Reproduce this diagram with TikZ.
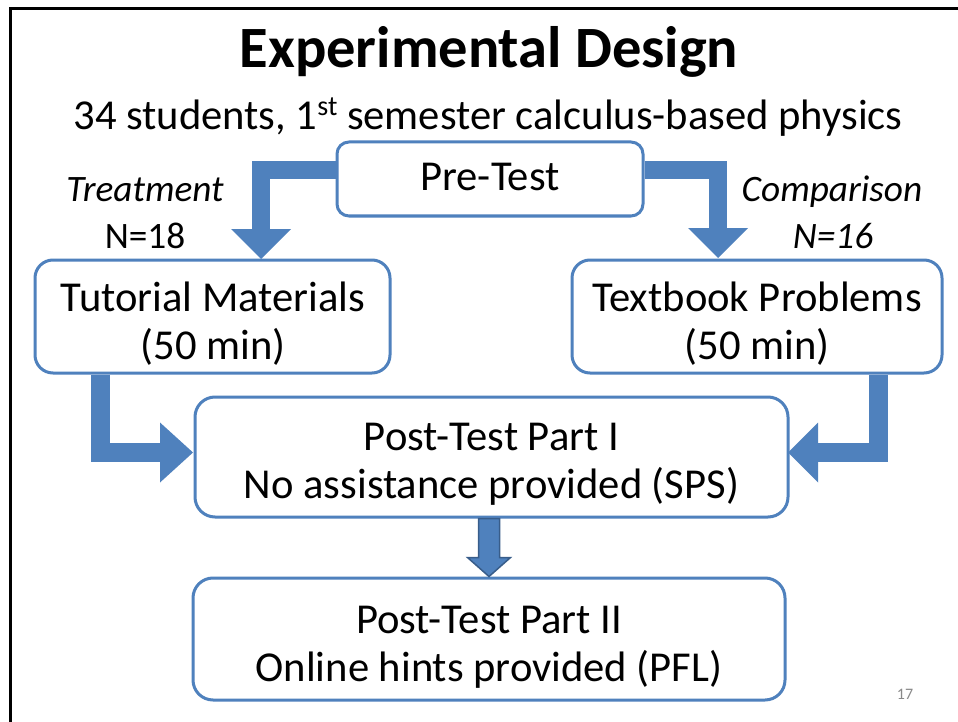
\documentclass[tikz,border=0pt]{standalone}
\usepackage{fontspec}
\setmainfont{Carlito}
\usetikzlibrary{arrows.meta,calc}
\definecolor{accent}{HTML}{4F81BD}
\definecolor{accentdark}{HTML}{385D8A}
\definecolor{pagegray}{HTML}{898989}
\begin{document}
\begin{tikzpicture}[x=1pt,y=-1pt,
  box/.style={draw=accent, line width=3pt, rounded corners=#1, fill=white, inner sep=0pt},
  box/.default=18pt,
  bodytext/.style={anchor=base, inner sep=0pt, font=\fontsize{42.6pt}{48pt}\selectfont},
  lbltext/.style={anchor=base, inner sep=0pt, font=\fontsize{37.3pt}{42pt}\selectfont},
  lblitalic/.style={anchor=base, inner sep=0pt, font=\itshape\fontsize{37.3pt}{42pt}\selectfont},
  fat/.style={draw=accent, line width=#1, line join=miter},
  fattip/.style={-{Triangle[width=60pt,length=#1,line width=0pt]}},
  blockarrow/.style={fill=accent, draw=accentdark, line width=1.5pt, line join=miter}
]
\useasboundingbox (0,0) rectangle (958,722);
\fill[white] (0,0) rectangle (958,722);
% slide frame
\draw[black, line width=2.5pt] (10.5,722) -- (10.5,8.5) -- (958,8.5);

% title and subtitle
\node[anchor=base, inner sep=0pt, font=\bfseries\fontsize{58.5pt}{60pt}\selectfont] (title) at (489,68) {Experimental Design};
\node[bodytext] (subtitle) at (488,130) {34 students, 1\raisebox{0.33em}{\fontsize{28pt}{28pt}\selectfont st} semester calculus-based physics};

% boxes
\node[box=12pt, minimum width=306pt, minimum height=74pt] (pre) at (490,179) {};
\node[box, minimum width=355pt, minimum height=113pt] (tut) at (212.5,316.5) {};
\node[box, minimum width=370pt, minimum height=113pt] (txt) at (757,316.5) {};
\node[box=20pt, minimum width=593pt, minimum height=120pt] (post1) at (491.5,457) {};
\node[box=20pt, minimum width=592pt, minimum height=122pt] (post2) at (489,639) {};

% box texts
\node[bodytext] (pretext) at (490,190) {Pre-Test};
\node[bodytext] (tuta) at (213,311) {Tutorial Materials};
\node[bodytext] (tutb) at (213,359) {(50 min)};
\node[bodytext] (txta) at (757,311) {Textbook Problems};
\node[bodytext] (txtb) at (757,359) {(50 min)};
\node[bodytext] (p1a) at (491.5,450) {Post-Test Part I};
\node[bodytext] (p1b) at (491.5,498) {No assistance provided (SPS)};
\node[bodytext] (p2a) at (489,633) {Post-Test Part II};
\node[bodytext] (p2b) at (489,681) {Online hints provided (PFL)};

% group labels
\node[lblitalic] (treat) at (145,202) {Treatment};
\node[lbltext] (ntreat) at (145,248) {N=18};
\node[lblitalic] (comp) at (832,202) {Comparison};
\node[lblitalic] (ncomp) at (833,248) {N=16};

% arrow end points
\coordinate (tipTut) at (261,259);
\coordinate (tipTxt) at (718,258);
\coordinate (tipP1L) at (193,452.5);
\coordinate (tipP1R) at (788,452.5);

% elbow arrows
\draw[fat=18pt, fattip=30pt] (pre.west |- 0,170) -| (tipTut);
\draw[fat=18pt, fattip=30pt] (pre.east |- 0,170) -| (tipTxt);
\draw[fat=19pt, fattip=33pt] (tut.south -| 100,0) |- (tipP1L);
\draw[fat=19pt, fattip=30pt] (txt.south -| 878.5,0) |- (tipP1R);

% block arrow between post tests
\coordinate (ba) at (post1.south -| post2.north);
\coordinate (bb) at (post2.north);
\draw[blockarrow] ($(ba)+(-10.5,0)$) -- ($(bb)+(-10.5,-19)$) -- ($(bb)+(-21.5,-19)$) -- (bb)
  -- ($(bb)+(21.5,-19)$) -- ($(bb)+(10.5,-19)$) -- ($(ba)+(10.5,0)$) -- cycle;

% page number
\node[anchor=base, inner sep=0pt, text=pagegray, font=\fontsize{16pt}{18pt}\selectfont] (pagenum) at (905,699) {17};
\end{tikzpicture}
\end{document}
